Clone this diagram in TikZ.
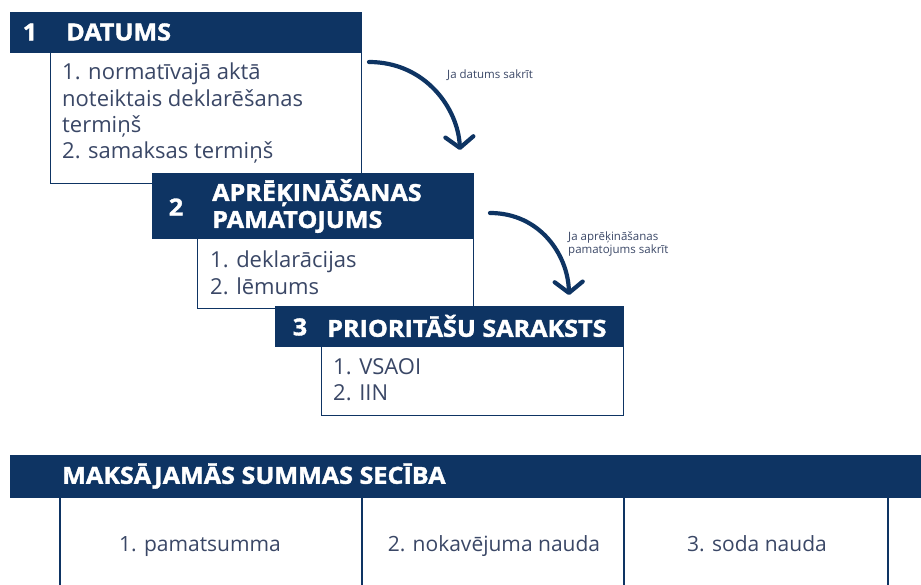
\documentclass[tikz,border=0pt]{standalone}
\usepackage{fontspec}
\setmainfont{Open Sans}
\newfontfamily\headfont[BoldFeatures={FakeBold=1.6,FakeStretch=1.07}]{Open Sans}
\usetikzlibrary{arrows.meta}
\definecolor{navy}{HTML}{0E3463}
\definecolor{bodyink}{HTML}{3A4766}
\tikzset{
  headbar/.style={fill=navy,draw=navy,anchor=north west,inner sep=0pt},
  bodybox/.style={fill=white,draw=navy,line width=1.2pt,anchor=north west,inner sep=0pt},
  stepnum/.style={text=white,font=\headfont\bfseries\fontsize{23.5}{27}\selectfont},
  steptitle/.style={text=white,anchor=west,align=left,inner sep=0pt,
    font=\headfont\bfseries\fontsize{23.5}{27}\selectfont},
  itemlist/.style={text=bodyink,anchor=north west,align=left,inner sep=0pt,
    font=\fontsize{22}{26.3}\selectfont},
  cellitem/.style={text=bodyink,anchor=base,inner sep=0pt,font=\fontsize{21}{25}\selectfont},
  cond/.style={text=bodyink,anchor=north west,align=left,inner sep=0pt,
    font=\fontsize{11.5}{13.5}\selectfont},
  flow/.style={navy,line width=4.2pt,line cap=round,
    -{Straight Barb[length=11pt,width=28pt,round]}},
}
\begin{document}
\begin{tikzpicture}[x=1pt,y=-1pt]
\useasboundingbox (0,0) rectangle (921,585);

% 1 datums
\node[headbar,minimum width=351pt,minimum height=40pt] (h1) at (10,12) {};
\node[stepnum] (n1) at (30,32) {1};
\node[steptitle] (t1) at (66,32) {DATUMS};
\node[bodybox,minimum width=311pt,minimum height=131pt] (b1) at (50,52) {};
\node[itemlist] (l1) at (62,63) {1. normatīvajā aktā\\noteiktais deklarēšanas\\termiņš\\2. samaksas termiņš};

% 2 aprekinasanas pamatojums
\node[headbar,minimum width=321pt,minimum height=65pt] (h2) at (152,173) {};
\node[stepnum] (n2) at (176,207) {2};
\node[steptitle] (t2) at (212,206) {APRĒĶINĀŠANAS\\PAMATOJUMS};
\node[bodybox,minimum width=276pt,minimum height=70pt] (b2) at (197,238) {};
\node[itemlist] (l2) at (210,251) {1. deklarācijas\\2. lēmums};

% 3 prioritasu saraksts
\node[headbar,minimum width=348pt,minimum height=40pt] (h3) at (275,306) {};
\node[stepnum] (n3) at (300,327) {3};
\node[steptitle] (t3) at (327,326) {PRIORITĀŠU SARAKSTS};
\node[bodybox,minimum width=302pt,minimum height=69pt] (b3) at (321,346) {};
\node[itemlist] (l3) at (333,358) {1. VSAOI\\2. IIN};

% bultas
\coordinate (a1s) at (369,62);
\coordinate (a1e) at (460,150);
\draw[flow] (a1s) .. controls (425,62) and (458,108) .. (a1e);
\node[cond] (c1) at (447,70) {Ja datums sakrīt};
\coordinate (a2s) at (490,213);
\coordinate (a2e) at (569,295);
\draw[flow] (a2s) .. controls (540,213) and (568,255) .. (a2e);
\node[cond] (c2) at (568,231) {Ja aprēķināšanas\\pamatojums sakrīt};

% maksajamas summas seciba
\node[headbar,minimum width=911pt,minimum height=42pt] (hs) at (10,455) {};
\node[steptitle] (ts) at (62,476) {MAKSĀJAMĀS SUMMAS SECĪBA};
\foreach \xx in {60,362,624,888}
  \draw[navy,line width=1.2pt] (\xx,497) -- (\xx,586);
\node[cellitem] (s1) at (200,551) {1. pamatsumma};
\node[cellitem] (s2) at (494,551) {2. nokavējuma nauda};
\node[cellitem] (s3) at (757,551) {3. soda nauda};
\end{tikzpicture}
\end{document}
